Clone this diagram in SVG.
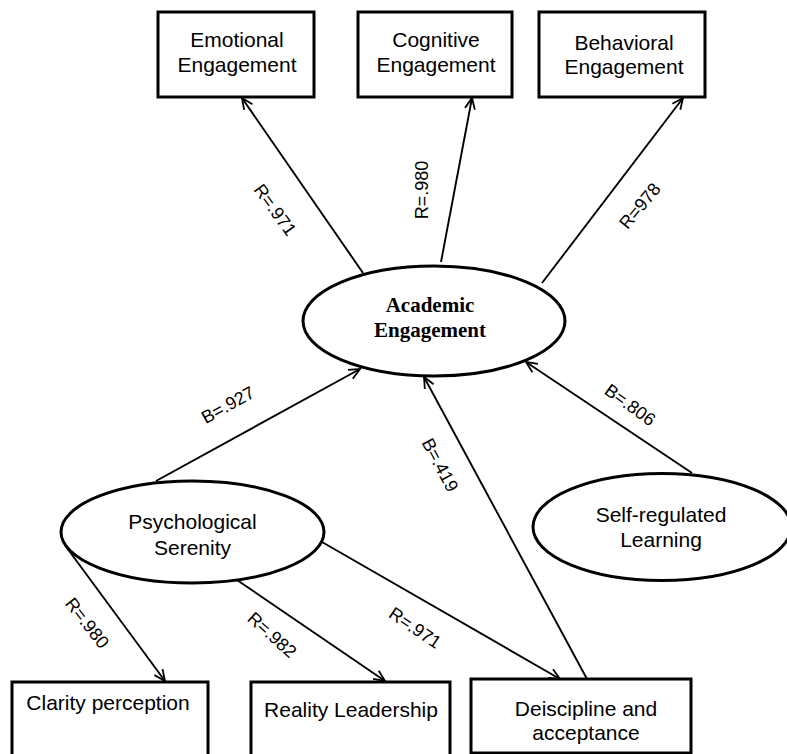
<svg xmlns="http://www.w3.org/2000/svg" width="787" height="754" viewBox="0 0 787 754">
<style>
  .box { fill: #fff; stroke: #000; stroke-width: 3; }
  .ell { fill: #fff; stroke: #000; stroke-width: 3; }
  .t { font-family: "Liberation Sans", Arial, sans-serif; font-size: 21px; fill: #000; text-anchor: middle; }
  .tb { font-family: "Liberation Serif", "Times New Roman", serif; font-size: 21px; font-weight: bold; fill: #000; text-anchor: middle; }
  .lbl { font-family: "Liberation Sans", Arial, sans-serif; font-size: 18px; fill: #000; text-anchor: middle; }
  .ln { stroke: #000; stroke-width: 1.9; fill: none; marker-end: url(#arr); }
</style>
<defs>
  <marker id="arr" markerWidth="14" markerHeight="14" refX="12" refY="6" orient="auto" markerUnits="userSpaceOnUse">
    <path d="M1,1 L12,6 L1,11" fill="none" stroke="#000" stroke-width="1.8"/>
  </marker>
</defs>
<rect width="787" height="754" fill="#fff"/>

<g id="connectors">
  <line class="ln" x1="363" y1="273" x2="242" y2="98"/>
  <line class="ln" x1="441" y1="262" x2="472" y2="98"/>
  <line class="ln" x1="542" y1="283" x2="683" y2="98"/>
  <line class="ln" x1="156" y1="481" x2="360" y2="369"/>
  <line class="ln" x1="587" y1="679" x2="424" y2="377"/>
  <line class="ln" x1="692" y1="473" x2="526" y2="362"/>
  <line class="ln" x1="67" y1="548" x2="165" y2="681"/>
  <line class="ln" x1="237" y1="580" x2="385" y2="681"/>
  <line class="ln" x1="322" y1="542" x2="560" y2="679"/>
  <g>
    <text class="lbl" transform="translate(275,210) rotate(54)" dy="6">R=.971</text>
    <text class="lbl" transform="translate(422,190) rotate(-90)" dy="6">R=.980</text>
    <text class="lbl" transform="translate(640,206) rotate(-50)" dy="6">R=978</text>
    <text class="lbl" transform="translate(228,405) rotate(-29)" dy="6">B=.927</text>
    <text class="lbl" transform="translate(440,465) rotate(62)" dy="6">B=.419</text>
    <text class="lbl" transform="translate(630,405) rotate(36)" dy="6">B=.806</text>
    <text class="lbl" transform="translate(87,623) rotate(52)" dy="6">R=.980</text>
    <text class="lbl" transform="translate(272,635) rotate(42)" dy="6">R=.982</text>
    <text class="lbl" transform="translate(415,628) rotate(34)" dy="6">R=.971</text>
  </g>
</g>

<g id="emotional">
  <rect class="box" x="158" y="12" width="156" height="85"/>
  <text class="t" x="237" y="47">Emotional</text>
  <text class="t" x="237" y="72">Engagement</text>
</g>
<g id="cognitive">
  <rect class="box" x="358" y="12" width="154" height="85"/>
  <text class="t" x="436" y="47">Cognitive</text>
  <text class="t" x="436" y="72">Engagement</text>
</g>
<g id="behavioral">
  <rect class="box" x="539" y="12" width="166" height="85"/>
  <text class="t" x="624" y="50">Behavioral</text>
  <text class="t" x="624" y="74">Engagement</text>
</g>
<g id="academic">
  <ellipse class="ell" cx="434" cy="321" rx="131" ry="55"/>
  <text class="tb" x="430" y="312">Academic</text>
  <text class="tb" x="430" y="337">Engagement</text>
</g>
<g id="psychological">
  <ellipse class="ell" cx="192.5" cy="532" rx="131.5" ry="51"/>
  <text class="t" x="192.5" y="529">Psychological</text>
  <text class="t" x="192.5" y="555">Serenity</text>
</g>
<g id="selfregulated">
  <ellipse class="ell" cx="662" cy="527" rx="129" ry="53.5"/>
  <text class="t" x="661" y="522">Self-regulated</text>
  <text class="t" x="661" y="547">Learning</text>
</g>
<g id="clarity">
  <rect class="box" x="12" y="682" width="196" height="90"/>
  <text class="t" x="108" y="710">Clarity perception</text>
</g>
<g id="reality">
  <rect class="box" x="251" y="682" width="199" height="90"/>
  <text class="t" x="351" y="717">Reality Leadership</text>
</g>
<g id="discipline">
  <rect class="box" x="471" y="679" width="220" height="74"/>
  <text class="t" x="586" y="716">Deiscipline and</text>
  <text class="t" x="586" y="740">acceptance</text>
</g>
</svg>
